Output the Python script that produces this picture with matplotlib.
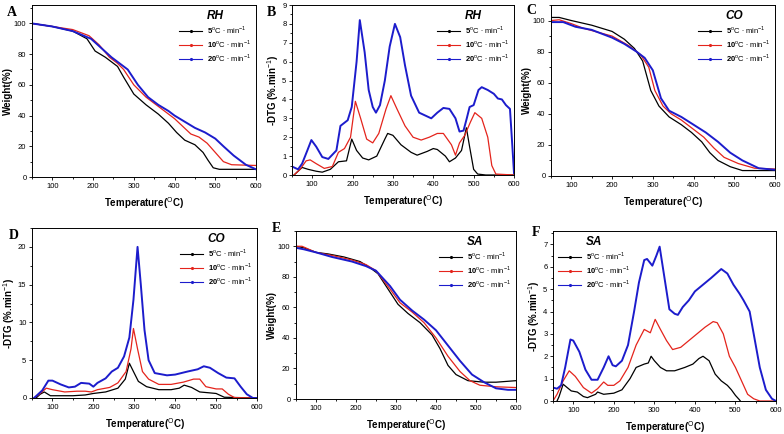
import matplotlib
matplotlib.use("Agg")
import matplotlib.pyplot as plt
from matplotlib.lines import Line2D
from matplotlib.ticker import MultipleLocator

plt.rcParams["font.family"] = ["Liberation Sans", "DejaVu Sans"]
plt.rcParams["mathtext.fontset"] = "custom"
plt.rcParams["mathtext.rm"] = "Liberation Sans"
plt.rcParams["mathtext.bf"] = "Liberation Sans:bold"

rates = ["5", "10", "20"]
colors = ["black", "#e4241c", "#1c1ccc"]

# ---- A: TG of RH ----
a_t5 = [50, 100, 150, 185, 205, 230, 260, 275, 300, 330, 360, 385, 405, 425, 450, 470, 482, 495, 510, 600]
a_w5 = [100, 98, 95, 90, 82, 78, 72, 65, 54, 47, 41, 35, 29, 24, 21, 16, 11, 6, 5, 5]
a_t10 = [50, 100, 150, 190, 215, 240, 260, 275, 300, 330, 360, 380, 400, 420, 440, 460, 480, 500, 520, 540, 600]
a_w10 = [100, 98, 96, 92, 86, 78, 74, 70, 60, 52, 46, 42, 38, 33, 28, 26, 22, 16, 10, 8, 7.5]
a_t20 = [50, 100, 150, 195, 220, 245, 265, 285, 310, 335, 360, 385, 400, 425, 450, 475, 500, 520, 545, 575, 600]
a_w20 = [100, 98, 95, 90, 84, 78, 74, 70, 60, 52, 47, 43, 40, 36, 32, 29, 25, 20, 14, 8, 5]

# ---- B: DTG of RH ----
b_t5 = [55, 75, 90, 110, 125, 145, 165, 185, 198, 210, 225, 240, 260, 280, 287, 300, 320, 345, 360, 385, 400,
        410, 430, 440, 455, 470, 482, 490, 500, 510, 530, 600]
b_d5 = [0, 0.4, 0.3, 0.2, 0.15, 0.3, 0.7, 0.75, 1.9, 1.3, 0.9, 0.8, 1.0, 1.9, 2.2, 2.1, 1.6, 1.2, 1.05, 1.25, 1.4,
        1.35, 1.0, 0.7, 0.9, 1.3, 2.5, 1.5, 0.3, 0.05, 0, 0]
b_t10 = [55, 70, 85, 95, 110, 130, 150, 165, 180, 195, 207, 220, 235, 250, 265, 283, 295, 310, 330, 350, 370,
         390, 410, 425, 445, 455, 465, 478, 492, 503, 520, 535, 545, 555, 600]
b_d10 = [0, 0.3, 0.75, 0.8, 0.6, 0.35, 0.45, 1.2, 1.4, 2.0, 3.9, 3.0, 1.9, 1.7, 2.2, 3.5, 4.2, 3.5, 2.6, 2.0, 1.85,
         2.0, 2.2, 2.2, 1.6, 1.05, 1.7, 2.1, 2.8, 3.3, 3.0, 2.0, 0.5, 0.05, 0]
b_t20 = [50, 65, 75, 88, 98, 110, 125, 140, 160, 170, 188, 198, 210, 218, 230, 240, 250, 258, 268, 280, 292, 305,
         318, 330, 345, 365, 385, 395, 410, 425, 440, 455, 465, 475, 483, 490, 500, 512, 520, 535, 550, 560, 570,
         580, 590, 596, 600]
b_d20 = [0.45, 0.3, 0.6, 1.3, 1.85, 1.5, 0.95, 0.85, 1.3, 2.6, 2.9, 3.6, 6.0, 8.2, 6.5, 4.5, 3.6, 3.3, 3.7, 5.0,
         6.8, 8.0, 7.3, 5.8, 4.2, 3.3, 3.1, 3.0, 3.3, 3.55, 3.5, 3.0, 2.3, 2.35, 3.0, 3.6, 3.7, 4.5, 4.65, 4.5,
         4.3, 4.05, 4.0, 3.7, 3.5, 1.5, 0.1]

# ---- C: TG of CO ----
c_t5 = [50, 70, 100, 150, 200, 230, 255, 275, 295, 315, 340, 370, 395, 420, 440, 460, 490, 520, 600]
c_w5 = [102, 102, 100, 97, 93, 88, 82, 74, 55, 45, 38, 33, 28, 22, 15, 10, 6, 3.5, 3.5]
c_t10 = [50, 70, 100, 130, 200, 240, 270, 290, 305, 325, 345, 370, 400, 425, 450, 475, 510, 550, 600]
c_w10 = [100, 100.5, 98, 95, 90, 84, 78, 70, 55, 45, 40, 36, 30, 25, 18, 12, 8, 5, 4.5]
c_t20 = [50, 80, 110, 150, 200, 230, 260, 280, 300, 320, 340, 370, 400, 430, 460, 490, 520, 560, 600]
c_w20 = [99, 99, 96, 94, 89, 85, 80, 76, 68, 50, 42, 38, 33, 28, 22, 15, 10, 5, 4]

# ---- D: DTG of CO ----
d_t5 = [60, 70, 80, 95, 150, 180, 200, 230, 260, 278, 288, 298, 310, 330, 360, 390, 410, 422, 440, 460, 480,
        500, 520, 600]
d_d5 = [0, 0.5, 0.8, 0.3, 0.3, 0.4, 0.6, 0.8, 1.3, 2.5, 4.6, 3.5, 2.2, 1.5, 1.1, 1.1, 1.3, 1.7, 1.4, 0.8, 0.7,
        0.6, 0.1, 0]
d_t10 = [55, 70, 85, 100, 130, 160, 180, 195, 210, 240, 260, 280, 292, 298, 308, 320, 335, 360, 390, 420, 445,
         460, 475, 500, 515, 530, 545, 600]
d_d10 = [0, 0.6, 1.3, 1.1, 0.8, 0.9, 0.9, 0.8, 1.1, 1.4, 2.0, 3.5, 6.5, 9.2, 6.5, 3.5, 2.5, 1.8, 1.8, 2.1, 2.5,
         2.5, 1.5, 1.2, 1.2, 0.5, 0.05, 0]
d_t20 = [55, 75, 90, 100, 120, 140, 155, 170, 190, 200, 210, 230, 245, 260, 275, 288, 298, 308, 316, 325, 335,
         350, 380, 400, 430, 455, 470, 485, 505, 525, 545, 560, 575, 590, 600]
d_d20 = [0, 1.0, 2.3, 2.3, 1.8, 1.4, 1.5, 2.0, 1.9, 1.5, 2.0, 2.6, 3.5, 4.0, 5.5, 8.0, 13, 20.0, 15, 9, 5,
         3.3, 3.0, 3.1, 3.5, 3.8, 4.2, 4.0, 3.3, 2.7, 2.6, 1.5, 0.5, 0, 0]

# ---- E: TG of SA ----
e_t5 = [50, 70, 100, 130, 170, 210, 235, 255, 280, 305, 330, 360, 390, 410, 430, 450, 480, 520, 550, 600]
e_w5 = [100, 99, 96, 95, 93, 90, 86, 82, 72, 62, 56, 50, 42, 33, 22, 16, 12, 11, 11, 12]
e_t10 = [50, 65, 100, 140, 190, 225, 250, 285, 310, 340, 370, 400, 430, 460, 485, 510, 550, 600]
e_w10 = [100, 100, 96, 94, 91, 88, 84, 72, 63, 57, 50, 40, 28, 18, 12, 9, 8, 7.5]
e_t20 = [50, 70, 100, 140, 190, 225, 250, 285, 310, 340, 370, 400, 430, 460, 490, 520, 550, 580, 600]
e_w20 = [99, 98, 96, 93, 90, 87, 84, 74, 65, 58, 52, 45, 35, 25, 16, 11, 7, 6, 6]

# ---- F: DTG of SA ----
f_t5 = [60, 65, 75, 85, 95, 110, 125, 135, 155, 160, 175, 200, 220, 240, 255, 275, 285, 292, 300, 315, 330,
        350, 375, 395, 410, 420, 435, 450, 465, 480, 490, 500, 510, 512]
f_d5 = [0, 0.2, 0.75, 0.6, 0.45, 0.4, 0.2, 0.15, 0.3, 0.4, 0.3, 0.35, 0.5, 1.0, 1.5, 1.65, 1.7, 2.0, 1.8, 1.5,
        1.35, 1.35, 1.5, 1.65, 1.9, 2.0, 1.8, 1.2, 0.9, 0.7, 0.5, 0.25, 0.05, 0]
f_t10 = [50, 60, 75, 90, 105, 125, 145, 160, 175, 185, 200, 215, 235, 255, 275, 290, 302, 315, 330, 345, 365,
         385, 405, 425, 445, 455, 470, 485, 500, 515, 530, 545, 560, 595]
f_d10 = [0, 0.3, 0.9, 1.35, 1.1, 0.6, 0.35, 0.55, 0.85, 0.7, 0.7, 0.9, 1.5, 2.5, 3.2, 3.05, 3.65, 3.2, 2.7, 2.3,
         2.4, 2.7, 3.0, 3.3, 3.55, 3.5, 3.0, 2.0, 1.5, 0.9, 0.3, 0.1, 0.0, 0]
f_t20 = [50, 60, 70, 80, 93, 100, 115, 130, 145, 160, 175, 187, 197, 205, 220, 235, 250, 262, 275, 282, 295,
         305, 313, 325, 337, 350, 358, 370, 385, 400, 420, 440, 465, 480, 495, 510, 520, 535, 545, 560, 575,
         590, 600]
f_d20 = [0.6, 0.55, 0.7, 1.5, 2.75, 2.7, 2.2, 1.4, 0.95, 0.95, 1.5, 2.0, 1.6, 1.55, 1.8, 2.5, 4.0, 5.3, 6.3,
         6.35, 6.05, 6.5, 6.9, 5.5, 4.1, 3.9, 3.85, 4.2, 4.5, 4.9, 5.2, 5.5, 5.9, 5.7, 5.2, 4.8, 4.5, 4.0, 3.0,
         1.5, 0.5, 0.1, 0]

panels = [
    ("A", "RH", "Weight(%)", (0, 112), 20, 10,
     [(a_t5, a_w5), (a_t10, a_w10), (a_t20, a_w20)], "upper right"),
    ("B", "RH", "-DTG (%.min$^{-1}$)", (0, 9), 1, 0.5,
     [(b_t5, b_d5), (b_t10, b_d10), (b_t20, b_d20)], "upper right"),
    ("C", "CO", "Weight(%)", (0, 110), 20, 10,
     [(c_t5, c_w5), (c_t10, c_w10), (c_t20, c_w20)], "upper right"),
    ("D", "CO", "-DTG (%.min$^{-1}$)", (0, 22.5), 5, 2.5,
     [(d_t5, d_d5), (d_t10, d_d10), (d_t20, d_d20)], "upper right"),
    ("E", "SA", "Weight(%)", (0, 110), 20, 10,
     [(e_t5, e_w5), (e_t10, e_w10), (e_t20, e_w20)], "upper right"),
    ("F", "SA", "-DTG (%.min$^{-1}$)", (0, 7.6), 1, 0.5,
     [(f_t5, f_d5), (f_t10, f_d10), (f_t20, f_d20)], "upper left"),
]

# axes boxes in pixels: left, top, right, bottom
boxes = [(32, 5, 256, 177), (292, 5, 514, 175), (551, 5, 775, 176),
         (32, 228, 257, 398), (296, 231, 516, 399), (553, 231, 776, 401)]
letter_pos = [(7, 13), (267, 13), (526, 11), (9, 235), (272, 229), (532, 233)]

W, H = 784, 434
fig = plt.figure(figsize=(W / 100, H / 100), dpi=100)

for (letter, name, ylabel, ylim, ymaj, ymin, series, loc), box, lp in zip(panels, boxes, letter_pos):
    l, t, r, b = box
    ax = fig.add_axes([l / W, 1 - b / H, (r - l) / W, (b - t) / H])
    handles = []
    for (x, y), c, rate in zip(series, colors, rates):
        lw = 1.4 if c == colors[2] else 0.9
        ax.plot(x, y, color=c, lw=lw)
        handles.append(Line2D([], [], color=c, lw=0.8, marker=".", markersize=2.5,
                              label=r"$\mathbf{" + rate + r"}^{\rm o}$C $\bullet$ min$^{-1}$"))
    ax.set_xlim(50, 600)
    ax.set_ylim(*ylim)
    ax.xaxis.set_major_locator(MultipleLocator(100))
    ax.xaxis.set_minor_locator(MultipleLocator(50))
    ax.yaxis.set_major_locator(MultipleLocator(ymaj))
    ax.yaxis.set_minor_locator(MultipleLocator(ymin))
    ax.tick_params(labelsize=5.5, length=2.5, width=0.6, pad=1.5)
    ax.tick_params(which="minor", length=1.3, width=0.6)
    for s in ax.spines.values():
        s.set_linewidth(0.7)
    ax.set_xlabel("Temperature($^{\\rm O}$C)", fontsize=7, fontweight="bold", labelpad=4)
    ax.set_ylabel(ylabel, fontsize=7, fontweight="bold", labelpad=1)
    leg = ax.legend(handles=handles, loc=loc, frameon=False, fontsize=5.5, title=name,
                    handlelength=3.0, handletextpad=0.6, labelspacing=0.25, borderaxespad=0.3)
    leg.get_title().set_fontsize(8.5)
    leg.get_title().set_fontweight("bold")
    leg.get_title().set_fontstyle("italic")
    fig.text(lp[0] / W, 1 - lp[1] / H, letter, fontsize=10, fontweight="bold",
             family="Liberation Serif", va="center", ha="left")

fig.savefig("out.png", dpi=100)
